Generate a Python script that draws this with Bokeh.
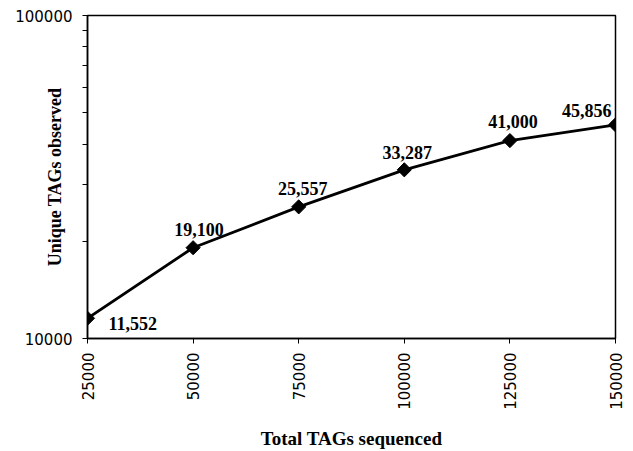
from math import pi
from bokeh.plotting import figure
from bokeh.models import ColumnDataSource, Range1d, FixedTicker, BasicTickFormatter
from bokeh.core.properties import value
from bokeh.embed import file_html
from bokeh.resources import INLINE

# ---- data ----
total_tags = [25000, 50000, 75000, 100000, 125000, 150000]
unique_tags = [11552, 19100, 25557, 33287, 41000, 45856]
point_labels = ["11,552", "19,100", "25,557", "33,287", "41,000", "45,856"]
x_ticks = [25000, 50000, 75000, 100000, 125000, 150000]
y_ticks = [10000, 100000]
y_minor_ticks = [20000, 30000, 40000, 50000, 60000, 70000, 80000, 90000]

# ---- label placement styles (pixels) ----
label_dx = [21, 6, 4, 3, 3, -4]
label_dy = [5, -18, -18, -17, -19, -14]
label_align = ["left", "center", "center", "center", "center", "right"]

src = ColumnDataSource(dict(x=total_tags, y=unique_tags, t=point_labels,
                            dx=label_dx, dy=label_dy, al=label_align))

p = figure(width=633, height=451, y_axis_type="log",
           x_range=Range1d(25000, 150000), y_range=Range1d(10000, 100000),
           output_backend="svg", toolbar_location=None,
           min_border_left=87, min_border_right=18,
           min_border_top=15, min_border_bottom=113)

p.grid.visible = False
p.outline_line_color = "black"
p.outline_line_width = 1.5
p.background_fill_color = "white"
p.border_fill_color = "white"

p.line("x", "y", source=src, line_color="black", line_width=2.8)
p.scatter("x", "y", source=src, marker="square", angle=pi / 4, size=10,
          fill_color="black", line_color="black")
p.text("x", "y", text="t", source=src, x_offset="dx", y_offset="dy",
       text_align="al", text_baseline="middle",
       text_font=value("Liberation Serif"), text_font_style="bold",
       text_font_size="18px", text_color="black")

# x axis
xa = p.xaxis[0]
xa.ticker = FixedTicker(ticks=x_ticks)
xa.formatter = BasicTickFormatter(use_scientific=False)
xa.major_label_orientation = pi / 2
xa.major_label_text_font = "DejaVu Sans"
xa.major_label_text_font_size = "15px"
xa.major_label_text_color = "black"
xa.major_label_standoff = 9
xa.major_tick_in = 0
xa.major_tick_out = 5
xa.minor_tick_line_color = None
xa.axis_line_color = "black"
xa.axis_line_width = 1.5
xa.major_tick_line_color = "black"
xa.axis_label = "Total TAGs sequenced"
xa.axis_label_text_font = "Liberation Serif"
xa.axis_label_text_font_style = "bold"
xa.axis_label_text_font_size = "19px"
xa.axis_label_text_color = "black"
xa.axis_label_standoff = 15

# y axis
ya = p.yaxis[0]
ya.ticker = FixedTicker(ticks=y_ticks, minor_ticks=y_minor_ticks)
ya.formatter = BasicTickFormatter(use_scientific=False)
ya.major_label_orientation = "horizontal"
ya.major_label_text_font = "DejaVu Sans"
ya.major_label_text_font_size = "15px"
ya.major_label_text_color = "black"
ya.major_label_standoff = 10
ya.major_tick_in = 0
ya.major_tick_out = 5
ya.minor_tick_in = 0
ya.minor_tick_out = 5
ya.minor_tick_line_color = "black"
ya.major_tick_line_color = "black"
ya.axis_line_color = "black"
ya.axis_line_width = 1.5
ya.axis_label = "Unique TAGs observed"
ya.axis_label_text_font = "Liberation Serif"
ya.axis_label_text_font_style = "bold"
ya.axis_label_text_font_size = "18px"
ya.axis_label_text_color = "black"
ya.axis_label_standoff = -53

open("out.html", "w").write(file_html(p, INLINE))
